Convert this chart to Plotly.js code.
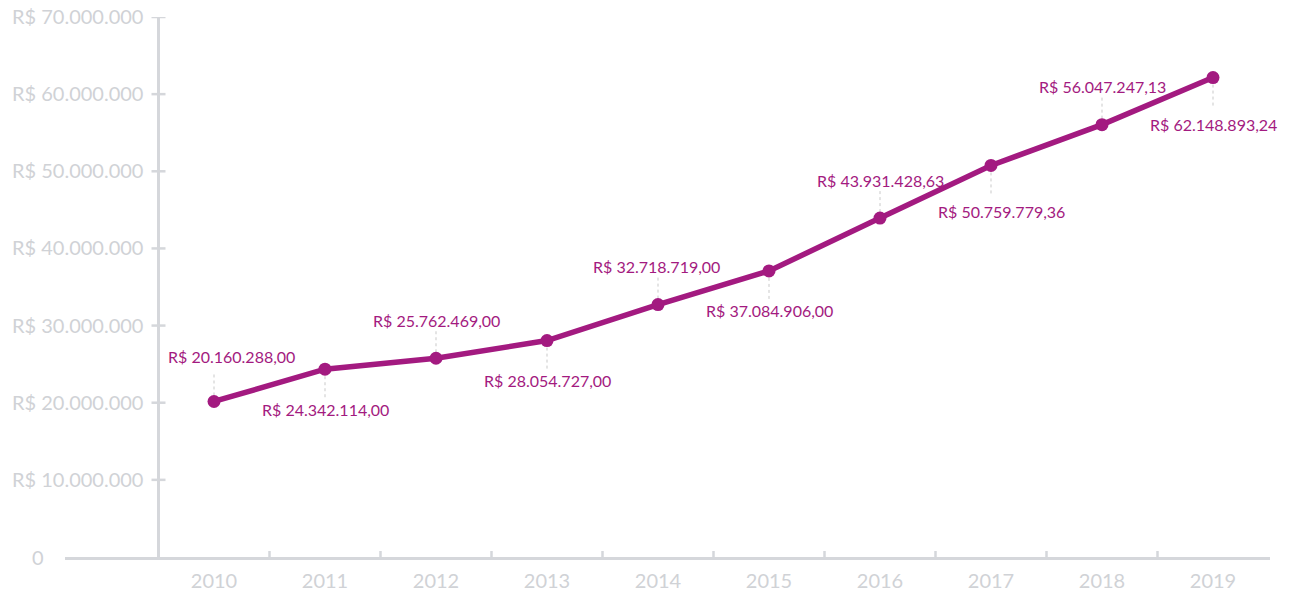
<!DOCTYPE html>
<html>
<head>
<meta charset="utf-8">
<script src="https://cdn.plot.ly/plotly-3.0.1.min.js"></script>
<style>
html,body{margin:0;padding:0;background:#fff;}
#chart{width:1290px;height:595px;}
</style>
</head>
<body>
<div id="chart"></div>
<script>
// ---- data ----
const years = ["2010","2011","2012","2013","2014","2015","2016","2017","2018","2019"];
const values = [20160288.00, 24342114.00, 25762469.00, 28054727.00, 32718719.00, 37084906.00, 43931428.63, 50759779.36, 56047247.13, 62148893.24];
const yTickVals = [0, 10000000, 20000000, 30000000, 40000000, 50000000, 60000000, 70000000];
const yTickText = ["", "R$ 10.000.000", "R$ 20.000.000", "R$ 30.000.000", "R$ 40.000.000", "R$ 50.000.000", "R$ 60.000.000", "R$ 70.000.000"];

// ---- helpers ----
function fmtBRL(v){
  const parts = v.toFixed(2).split(".");
  const int = parts[0].replace(/\B(?=(\d{3})+(?!\d))/g, ".");
  return "R$ " + int + "," + parts[1];
}

const magenta = "#a31a80";
const axisGray = "#d5d7db";
const textGray = "#d0d2d6";
const fontFam = "Lato, 'Open Sans', sans-serif";

const xIdx = years.map((_, i) => i);
// label placement style (not data): alternate above/below, small fine-tuning
const labelDy = [45, -40, 38, -40, 38, -40, 38, -46, 38, -47];
const labelDx = [17, 0, 0, 0, -2, 0, 0, 10, 0, 0];

const annotations = [];
const shapes = [];

values.forEach((v, i) => {
  const above = labelDy[i] > 0;
  annotations.push({
    x: i, y: v, xref: "x", yref: "y",
    text: fmtBRL(v), showarrow: false,
    xshift: labelDx[i], yshift: labelDy[i],
    xanchor: "center", yanchor: "middle",
    font: {family: fontFam, size: 16, color: magenta}
  });
  shapes.push({
    type: "line", xref: "x", yref: "y",
    x0: i, x1: i,
    ysizemode: "pixel", yanchor: v,
    y0: above ? 6 : -7, y1: above ? 28 : -29,
    line: {color: "#c9c9c9", width: 1, dash: "dot"},
    layer: "below"
  });
});

// x tick marks crossing the axis, between categories
for (let k = 0; k < years.length - 1; k++) {
  shapes.push({
    type: "line", xref: "x", yref: "y",
    x0: k + 0.5, x1: k + 0.5,
    ysizemode: "pixel", yanchor: 0, y0: -7, y1: 6,
    line: {color: axisGray, width: 2.5}, layer: "below"
  });
}
// y tick marks crossing the y axis line
yTickVals.forEach(t => {
  if (t === 0) return;
  shapes.push({
    type: "line", xref: "x", yref: "y",
    xsizemode: "pixel", xanchor: -0.5, x0: -7, x1: 7,
    y0: t, y1: t,
    line: {color: axisGray, width: 2.5}, layer: "below"
  });
});

// "0" label at far left
annotations.push({
  x: 0, xref: "paper", y: 0, yref: "y",
  text: "0", showarrow: false, xanchor: "right", yanchor: "middle",
  xshift: -19,
  font: {family: fontFam, size: 20, color: textGray}
});

const left = -1.3423, right = 9.5135;
const yPos = (-0.5 - left) / (right - left);

const trace = {
  x: xIdx, y: values, type: "scatter", mode: "lines+markers",
  line: {color: magenta, width: 5.5},
  marker: {color: magenta, size: 13},
  hoverinfo: "skip", cliponaxis: false
};

const layout = {
  width: 1290, height: 595,
  margin: {l: 65, r: 20, t: 17, b: 38},
  paper_bgcolor: "#fff", plot_bgcolor: "#fff",
  showlegend: false,
  font: {family: fontFam},
  xaxis: {
    range: [left, right],
    tickvals: xIdx, ticktext: years,
    ticks: "", showgrid: false, zeroline: false,
    showline: true, linecolor: axisGray, linewidth: 3,
    tickfont: {family: fontFam, size: 20, color: textGray},
    ticklabelstandoff: 4,
    fixedrange: true
  },
  yaxis: {
    range: [0, 70000000],
    tickvals: yTickVals, ticktext: yTickText,
    ticks: "", showgrid: false, zeroline: false,
    showline: true, linecolor: axisGray, linewidth: 3,
    anchor: "free", position: yPos,
    tickfont: {family: fontFam, size: 20, color: textGray},
    ticklabelstandoff: 10,
    fixedrange: true
  },
  annotations: annotations,
  shapes: shapes
};

Plotly.newPlot("chart", [trace], layout, {displayModeBar: false, staticPlot: true});
</script>
</body>
</html>
